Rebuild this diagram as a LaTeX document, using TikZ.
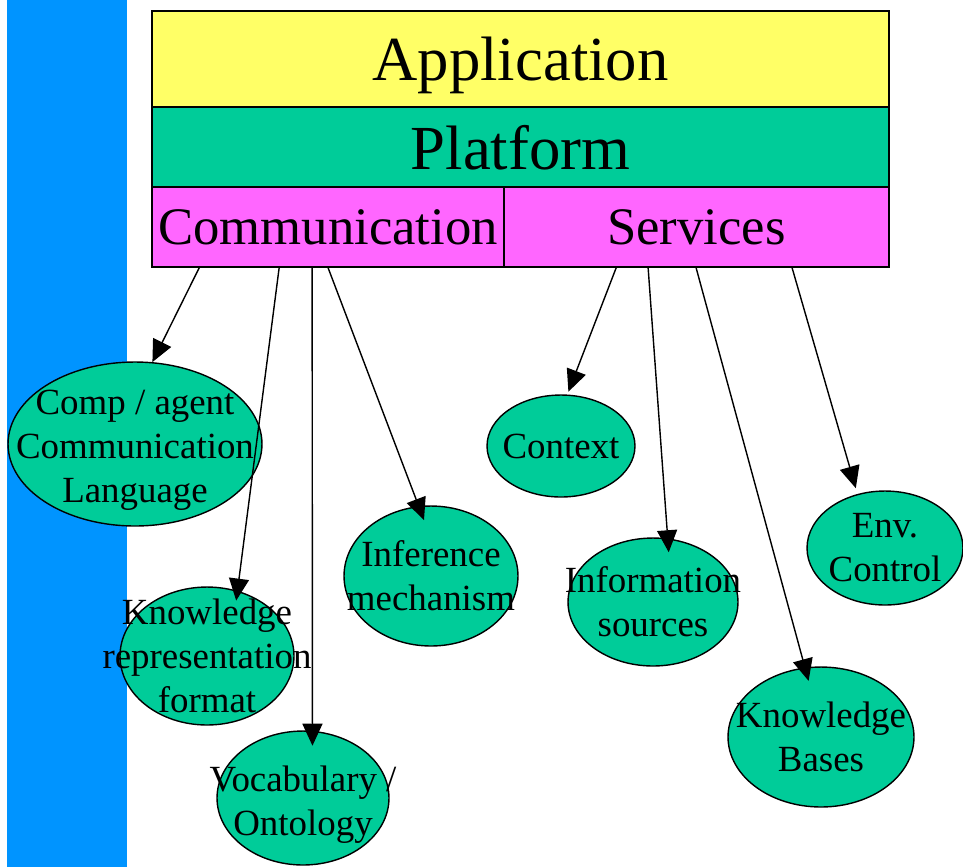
\documentclass[tikz,border=0pt]{standalone}
\usepackage{fontspec}
\setmainfont{Liberation Serif}
\usetikzlibrary{shapes.geometric,arrows.meta}
\definecolor{appyellow}{RGB}{255,255,102}
\definecolor{platgreen}{RGB}{0,204,153}
\definecolor{commpink}{RGB}{255,102,255}
\definecolor{barblue}{RGB}{0,148,255}
\begin{document}
\begin{tikzpicture}[x=0.02cm, y=-0.02cm,
		layer/.style={draw, line width=1pt, inner sep=0pt, text depth=0pt, minimum height=1.6cm},
		blob/.style={draw, ellipse, fill=platgreen, line width=0.8pt, inner sep=0pt},
		txt/.style={align=center, inner sep=0pt, font=\fontsize{21}{25}\selectfont},
		arr/.style={-{Triangle[length=0.44cm, width=0.4cm]}, line width=0.8pt}]
	\useasboundingbox (0,0) rectangle (963,867);
	\fill[barblue] (7,0) rectangle (127,867);
	% layers
	\node[layer, fill=appyellow, minimum width=14.74cm, minimum height=1.92cm, font=\fontsize{35.7}{40}\selectfont] (app) at (520.5,59) {Application};
	\node[layer, fill=platgreen, minimum width=14.74cm, font=\fontsize{35.7}{40}\selectfont] (plat) at (520.5,147) {Platform};
	\node[layer, fill=commpink, minimum width=7.04cm, font=\fontsize{30}{34}\selectfont] (comm) at (328,227) {Communication};
	\node[layer, fill=commpink, minimum width=7.7cm, font=\fontsize{30}{34}\selectfont] (serv) at (696.5,227) {Services};
	% ellipses
	\node[blob, minimum width=5.08cm, minimum height=3.28cm, label={[txt, yshift=-0.12cm]center:{Comp / agent\\Communication\\Language}}] (cal) at (135,444) {};
	\node[blob, minimum width=3.48cm, minimum height=2.76cm, label={[txt]center:{Knowledge\\representation\\format}}] (krf) at (207,656) {};
	\node[blob, minimum width=3.44cm, minimum height=2.68cm, label={[txt, yshift=-0.14cm]center:{Vocabulary /\\Ontology}}] (voc) at (303,798) {};
	\node[blob, minimum width=3.48cm, minimum height=2.8cm, label={[txt]center:{Inference\\mechanism}}] (inf) at (431,576) {};
	\node[blob, minimum width=2.96cm, minimum height=2.04cm, label={[txt]center:{Context}}] (ctx) at (561,446) {};
	\node[blob, minimum width=3.4cm, minimum height=2.56cm, label={[txt]center:{Information\\sources}}] (isrc) at (653,602) {};
	\node[blob, minimum width=3.12cm, minimum height=2.28cm, label={[txt]center:{Env.\\Control}}] (env) at (885,548) {};
	\node[blob, minimum width=3.72cm, minimum height=2.8cm, label={[txt]center:{Knowledge\\Bases}}] (kb) at (821,737) {};
	% arrows
	\foreach \dx/\tgt/\sh in {0.96/cal.78/0, 2.56/krf.65/-0.2, 3.22/voc.82/-0.3, 3.54/inf.100/-0.3}
		\draw[arr, shorten >=\sh cm] ([xshift=\dx cm]comm.south west) -- (\tgt);
	\foreach \dx/\tgt/\sh in {2.26/ctx.83/0.06, 2.9/isrc.77/-0.28, 3.86/kb.103/-0.28, 5.78/env.117/0.12}
		\draw[arr, shorten >=\sh cm] ([xshift=\dx cm]serv.south west) -- (\tgt);
\end{tikzpicture}
\end{document}
